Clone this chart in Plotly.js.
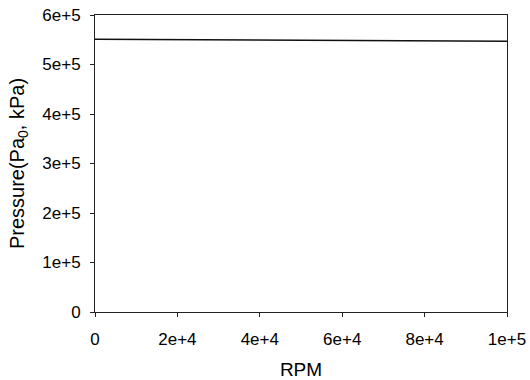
<!DOCTYPE html>
<html>
<head>
<meta charset="utf-8">
<script src="https://cdn.plot.ly/plotly-3.0.1.min.js"></script>
<style>html,body{margin:0;padding:0;background:#fff;}#chart{width:530px;height:380px;}</style>
</head>
<body>
<div id="chart"></div>
<script>
const rpm = [0, 20000, 40000, 60000, 80000, 100000];
const pressure = [551000, 550200, 549400, 548600, 547800, 547000];
const xTickVals = [0, 20000, 40000, 60000, 80000, 100000];
const xTickText = ["0", "2e+4", "4e+4", "6e+4", "8e+4", "1e+5"];
const yTickVals = [0, 100000, 200000, 300000, 400000, 500000, 600000];
const yTickText = ["0", "1e+5", "2e+5", "3e+5", "4e+5", "5e+5", "6e+5"];

const font = {family: "Liberation Sans, Arial, sans-serif", size: 17, color: "#000"};
Plotly.newPlot("chart", [{
  x: rpm, y: pressure, type: "scatter", mode: "lines",
  line: {color: "#111", width: 1.4}
}], {
  width: 530, height: 380,
  margin: {l: 95, r: 23, t: 15, b: 68},
  paper_bgcolor: "#fff", plot_bgcolor: "#fff",
  font: font,
  showlegend: false,
  xaxis: {
    range: [0, 100000], tickvals: xTickVals, ticktext: xTickText,
    showline: true, linecolor: "#222", linewidth: 1, mirror: true,
    ticks: "outside", ticklen: 4, tickcolor: "#222",
    showgrid: false, zeroline: false,
    tickfont: {size: 17}, ticklabelstandoff: 8,
    automargin: false,
    title: {text: "RPM", font: {size: 19}, standoff: 14}
  },
  yaxis: {
    range: [0, 600000], tickvals: yTickVals, ticktext: yTickText,
    showline: true, linecolor: "#222", linewidth: 1, mirror: true,
    ticks: "outside", ticklen: 4, tickcolor: "#222",
    showgrid: false, zeroline: false,
    tickfont: {size: 17}, ticklabelstandoff: 6,
    automargin: false,
    title: {text: "Pressure(Pa<sub>0</sub>, kPa)", font: {size: 20}, standoff: 12}
  }
}, {staticPlot: true, displayModeBar: false});
</script>
</body>
</html>
